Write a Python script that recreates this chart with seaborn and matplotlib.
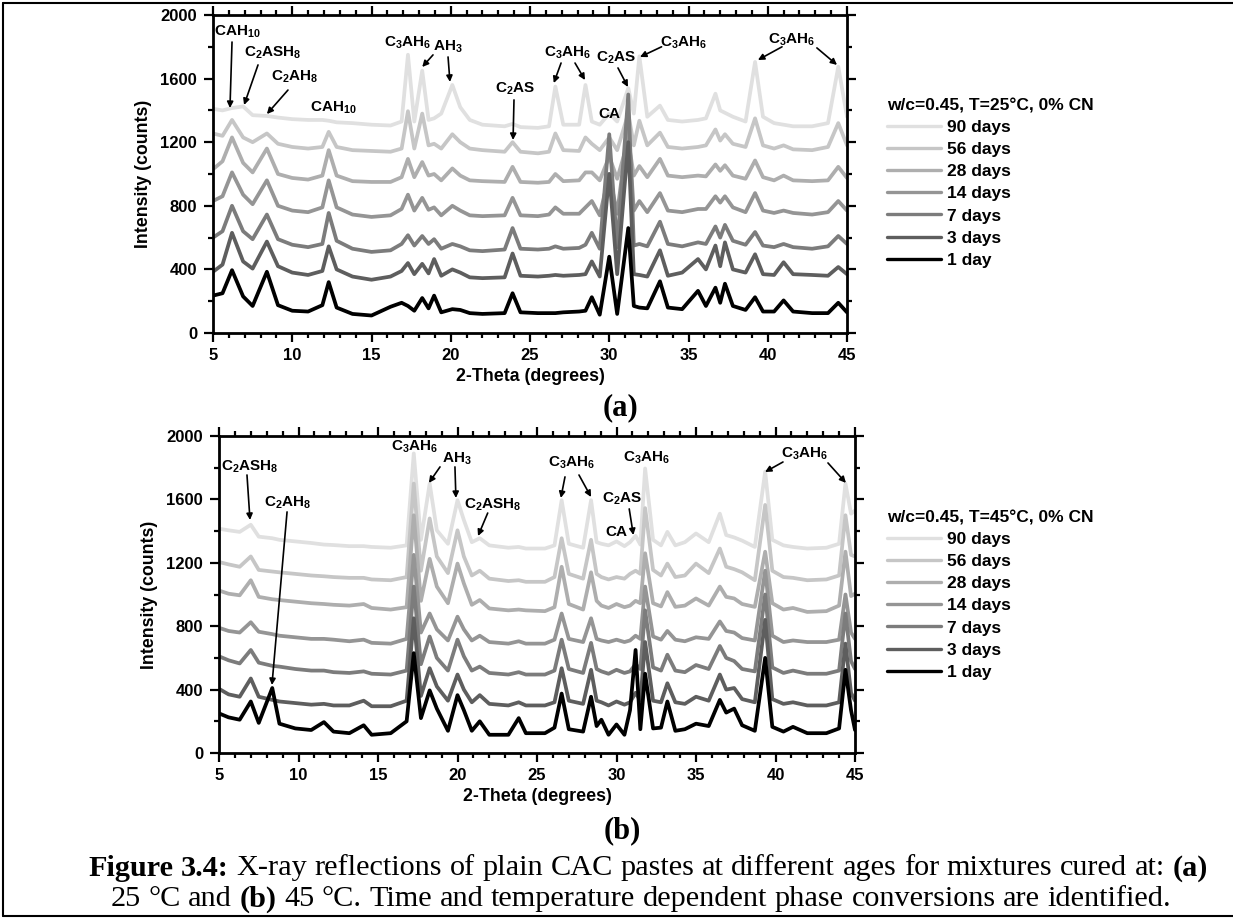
import numpy as np
import pandas as pd
import matplotlib
matplotlib.use("Agg")
import matplotlib.pyplot as plt
from matplotlib.lines import Line2D
from matplotlib.ticker import MultipleLocator
import seaborn as sns

# ---------------- data ----------------
AGES = ["1 day", "3 days", "7 days", "14 days", "28 days", "56 days", "90 days"]
AGE_COLORS = ["#000000", "#5e5e5e", "#7c7c7c", "#959595", "#aeaeae", "#c6c6c6", "#e0e0e0"]

TH_A = [5.0, 5.6, 6.2, 6.9, 7.5, 8.4, 9.1, 10.0, 11.0, 11.9,
        12.3, 12.8, 13.8, 15.0, 16.2, 16.9, 17.3, 17.7, 18.2, 18.6,
        18.95, 19.4, 20.1, 20.6, 21.2, 22.0, 23.4, 23.9, 24.4, 25.5,
        26.2, 26.6, 27.1, 28.1, 28.5, 28.9, 29.4, 30.0, 30.5, 31.2,
        31.55, 31.9, 32.4, 33.2, 33.7, 34.6, 35.6, 36.1, 36.7, 37.0,
        37.3, 37.8, 38.6, 39.2, 39.7, 40.4, 41.0, 41.6, 42.8, 43.8,
        44.45, 45.0]

A_1D = [235, 250, 395, 230, 170, 385, 175, 140, 135, 175,
        320, 160, 120, 110, 165, 190, 170, 140, 220, 155,
        235, 130, 150, 145, 125, 120, 125, 250, 130, 125,
        125, 125, 130, 135, 140, 225, 115, 480, 120, 660,
        170, 160, 155, 325, 160, 150, 265, 170, 285, 190,
        310, 170, 145, 225, 135, 135, 205, 135, 125, 125,
        190, 130]
A_3D = [385, 430, 630, 450, 405, 575, 420, 380, 365, 390,
        545, 400, 355, 335, 355, 390, 440, 370, 435, 375,
        465, 360, 400, 380, 350, 345, 350, 500, 360, 355,
        360, 365, 360, 365, 370, 450, 355, 1000, 370, 1200,
        370, 365, 355, 520, 360, 380, 465, 400, 550, 420,
        570, 400, 380, 495, 370, 365, 445, 370, 365, 360,
        415, 370]
A_7D = [600, 640, 800, 640, 590, 745, 590, 555, 540, 560,
        755, 580, 530, 510, 520, 560, 615, 550, 610, 560,
        590, 530, 560, 545, 520, 515, 525, 660, 530, 525,
        530, 545, 530, 535, 555, 630, 530, 1250, 540, 1500,
        550, 560, 545, 700, 560, 545, 570, 560, 670, 600,
        680, 580, 555, 635, 550, 540, 560, 540, 530, 545,
        610, 560]
A_14D = [830, 860, 1010, 870, 810, 960, 800, 770, 760, 790,
         960, 790, 745, 730, 740, 780, 870, 770, 850, 775,
         790, 740, 800, 770, 740, 735, 740, 850, 740, 735,
         745, 790, 750, 750, 790, 830, 740, 1000, 750, 1300,
         770, 830, 760, 880, 770, 760, 780, 780, 860, 820,
         860, 790, 760, 880, 770, 755, 770, 755, 745, 760,
         830, 770]
A_28D = [1030, 1080, 1230, 1070, 1010, 1160, 1000, 975, 965, 990,
         1150, 990, 955, 950, 950, 980, 1095, 980, 1075, 990,
         1000, 960, 1035, 990, 960, 955, 950, 1045, 950, 945,
         950, 1000, 955, 960, 1010, 1010, 960, 1110, 970, 1210,
         990, 1050, 980, 1095, 990, 980, 990, 985, 1060, 1020,
         1055, 990, 970, 1085, 980, 960, 990, 960, 955, 960,
         1045, 975]
A_56D = [1255, 1240, 1340, 1230, 1200, 1255, 1190, 1170, 1160, 1170,
         1265, 1170, 1150, 1145, 1140, 1160, 1395, 1160, 1380, 1180,
         1190, 1160, 1250, 1200, 1160, 1150, 1140, 1200, 1140, 1130,
         1140, 1255, 1150, 1145, 1230, 1190, 1150, 1230, 1150, 1380,
         1180, 1335, 1180, 1260, 1170, 1160, 1170, 1180, 1280, 1210,
         1250, 1190, 1170, 1350, 1180, 1160, 1180, 1155, 1150, 1170,
         1320, 1180]
A_90D = [1410, 1400, 1415, 1425, 1370, 1365, 1355, 1345, 1340, 1340,
         1335, 1325, 1320, 1310, 1305, 1330, 1750, 1330, 1650, 1340,
         1350, 1380, 1560, 1420, 1340, 1310, 1300, 1315, 1295, 1290,
         1300, 1550, 1310, 1310, 1560, 1330, 1310, 1380, 1330, 1540,
         1380, 1740, 1360, 1430, 1340, 1330, 1340, 1350, 1505, 1400,
         1385, 1360, 1330, 1705, 1360, 1320, 1310, 1300, 1300, 1320,
         1675, 1360]

TH_B = [5.0, 5.6, 6.3, 7.0, 7.5, 8.35, 8.8, 9.8, 10.8, 11.6,
        12.2, 13.2, 14.1, 14.6, 15.8, 16.8, 17.25, 17.7, 18.25, 18.7,
        19.4, 20.0, 20.4, 20.9, 21.4, 22.0, 23.2, 23.85, 24.3, 25.5,
        26.1, 26.55, 27.0, 27.9, 28.4, 28.75, 29.05, 29.5, 30.0, 30.5,
        30.85, 31.2, 31.5, 31.8, 32.3, 32.8, 33.2, 33.7, 34.3, 35.0,
        35.8, 36.5, 36.9, 37.4, 37.9, 38.7, 39.35, 39.8, 40.5, 41.1,
        42.0, 43.2, 44.0, 44.4, 44.75, 45.0]

B_1D = [250, 225, 210, 325, 190, 410, 185, 155, 145, 195,
        135, 125, 175, 115, 125, 200, 630, 220, 395, 280,
        140, 365, 270, 140, 200, 115, 115, 220, 125, 125,
        160, 375, 150, 135, 355, 170, 210, 115, 180, 115,
        270, 650, 150, 500, 155, 160, 325, 140, 150, 185,
        170, 335, 255, 280, 175, 140, 600, 165, 135, 165,
        125, 125, 155, 525, 270, 145]
B_3D = [405, 370, 355, 470, 355, 335, 325, 315, 305, 310,
        300, 300, 330, 295, 295, 330, 850, 360, 535, 420,
        330, 495, 400, 320, 365, 310, 300, 320, 300, 300,
        320, 535, 330, 310, 525, 330, 320, 300, 325, 305,
        320, 380, 330, 700, 330, 320, 440, 320, 310, 355,
        330, 495, 400, 410, 340, 320, 840, 340, 310, 320,
        300, 300, 320, 690, 380, 330]
B_7D = [610, 585, 565, 650, 570, 550, 545, 530, 520, 520,
        510, 505, 515, 500, 495, 520, 1050, 560, 735, 600,
        520, 715, 610, 520, 545, 505, 495, 510, 495, 495,
        520, 715, 530, 505, 695, 530, 515, 500, 525, 505,
        515, 560, 530, 900, 540, 520, 620, 520, 510, 555,
        530, 675, 600, 580, 530, 515, 1000, 540, 505, 520,
        500, 500, 520, 880, 580, 530]
B_14D = [790, 770, 760, 825, 765, 750, 740, 730, 720, 720,
         715, 705, 715, 695, 690, 720, 1250, 760, 880, 780,
         710, 860, 780, 710, 740, 700, 690, 705, 690, 690,
         715, 880, 720, 700, 850, 720, 710, 700, 715, 700,
         710, 740, 720, 1050, 735, 715, 770, 715, 705, 730,
         720, 830, 770, 760, 725, 710, 1150, 740, 700, 710,
         700, 700, 715, 1000, 760, 720]
B_28D = [1025, 1005, 995, 1090, 985, 970, 965, 955, 945, 940,
         935, 930, 940, 915, 905, 920, 1500, 960, 1225, 1050,
         945, 1195, 1070, 935, 965, 912, 900, 905, 900, 895,
         920, 1175, 940, 905, 1140, 960, 930, 915, 940, 920,
         930, 960, 945, 1260, 945, 925, 1015, 922, 930, 975,
         930, 1050, 985, 975, 940, 922, 1270, 945, 905, 915,
         890, 895, 930, 1270, 990, 1005]
B_56D = [1205, 1190, 1175, 1240, 1155, 1145, 1140, 1130, 1120, 1115,
         1110, 1105, 1105, 1095, 1090, 1110, 1700, 1150, 1480, 1240,
         1135, 1405, 1240, 1120, 1150, 1100, 1085, 1090, 1080, 1080,
         1110, 1355, 1130, 1100, 1345, 1130, 1110, 1095, 1110, 1100,
         1130, 1150, 1130, 1545, 1155, 1120, 1195, 1110, 1120, 1195,
         1135, 1290, 1175, 1160, 1140, 1090, 1565, 1150, 1110, 1105,
         1090, 1095, 1120, 1500, 1250, 1240]
B_90D = [1415, 1405, 1395, 1440, 1365, 1355, 1345, 1335, 1325, 1315,
         1312, 1305, 1305, 1300, 1295, 1310, 1890, 1345, 1700, 1405,
         1320, 1595, 1470, 1330, 1355, 1310, 1295, 1300, 1290, 1290,
         1310, 1595, 1320, 1295, 1595, 1330, 1320, 1310, 1335, 1305,
         1330, 1370, 1315, 1795, 1345, 1310, 1395, 1310, 1330, 1385,
         1330, 1510, 1375, 1360, 1340, 1300, 1775, 1345, 1310, 1300,
         1290, 1295, 1320, 1700, 1510, 1530]

SERIES_A = [A_1D, A_3D, A_7D, A_14D, A_28D, A_56D, A_90D]
SERIES_B = [B_1D, B_3D, B_7D, B_14D, B_28D, B_56D, B_90D]

X_TICKS = [5, 10, 15, 20, 25, 30, 35, 40, 45]
Y_TICKS = [0, 400, 800, 1200, 1600, 2000]

TITLE_A = "w/c=0.45, T=25°C, 0% CN"
TITLE_B = "w/c=0.45, T=45°C, 0% CN"

# annotations: (label, text x, text y, [(tail x, tail y, tip x, tip y), ...])
ANN_A = [
    ("CAH$_{10}$", 6.55, 1893, [(6.2, 1830, 6.07, 1415)]),
    ("C$_2$ASH$_8$", 8.76, 1761, [(7.84, 1686, 6.96, 1434)]),
    ("C$_2$AH$_8$", 10.13, 1610, [(9.73, 1528, 8.4, 1377)]),
    ("CAH$_{10}$", 12.57, 1415, []),
    ("C$_3$AH$_6$", 17.3, 1825, []),
    ("AH$_3$", 19.8, 1800, [(18.88, 1749, 18.2, 1673), (19.83, 1736, 19.95, 1579)]),
    ("C$_2$AS", 24.05, 1535, [(23.99, 1466, 23.93, 1214)]),
    ("C$_3$AH$_6$", 27.4, 1761, [(26.96, 1698, 26.5, 1572), (27.84, 1698, 28.47, 1591)]),
    ("C$_2$AS", 30.43, 1730, [(30.55, 1667, 31.18, 1547)]),
    ("CA", 29.98, 1377, []),
    ("C$_3$AH$_6$", 34.7, 1824, [(33.3, 1800, 31.94, 1736)]),
    ("C$_3$AH$_6$", 41.53, 1843, [(40.9, 1800, 39.38, 1717), (43.1, 1793, 44.37, 1686)]),
]
ANN_B = [
    ("C$_2$ASH$_8$", 6.95, 1805, [(6.76, 1754, 6.95, 1470)]),
    ("C$_2$AH$_8$", 9.34, 1577, [(9.28, 1521, 8.33, 429)]),
    ("C$_3$AH$_6$", 17.33, 1931, []),
    ("AH$_3$", 19.97, 1855, [(18.9, 1805, 18.2, 1704), (19.84, 1805, 19.9, 1609)]),
    ("C$_2$ASH$_8$", 22.23, 1565, [(21.9, 1514, 21.29, 1369)]),
    ("C$_3$AH$_6$", 27.2, 1830, [(26.76, 1742, 26.5, 1609), (27.64, 1754, 28.4, 1615)]),
    ("C$_2$AS", 30.33, 1603, [(30.8, 1540, 31.06, 1375)]),
    ("CA", 30.0, 1394, []),
    ("C$_3$AH$_6$", 31.9, 1861, []),
    ("C$_3$AH$_6$", 41.8, 1886, [(40.47, 1836, 39.34, 1773), (43.3, 1830, 44.43, 1704)]),
]

CAPTION_1 = [("Figure 3.4:", "bold"), ("X-ray reflections of plain CAC pastes at different ages for mixtures cured at:", "normal"), ("(a)", "bold")]
CAPTION_2 = [("25 °C and", "normal"), ("(b)", "bold"), ("45 °C. Time and temperature dependent phase conversions are identified.", "normal")]

# ---------------- style ----------------
sns.set_theme(style="ticks")
plt.rcParams["font.family"] = ["Liberation Sans", "DejaVu Sans"]
plt.rcParams.update({
    "font.weight": "bold",
    "axes.edgecolor": "black",
    "axes.labelcolor": "black",
    "text.color": "black",
    "xtick.color": "black",
    "ytick.color": "black",
    "axes.linewidth": 2.0,
    "mathtext.fontset": "custom",
    "mathtext.rm": "Liberation Sans:bold",
    "mathtext.it": "Liberation Sans:bold:italic",
    "mathtext.bf": "Liberation Sans:bold",
})

W, H = 1233, 919
fig = plt.figure(figsize=(W / 100, H / 100), dpi=100)
fig.patch.set_facecolor("white")


def px_axes(l, t, r, b):
    return [l / W, 1 - b / H, (r - l) / W, (b - t) / H]


ax_a = fig.add_axes(px_axes(213, 15, 847, 333))
ax_b = fig.add_axes(px_axes(219, 436, 855, 753))

palette = dict(zip(AGES, AGE_COLORS))
draw_order = AGES[::-1]  # 90 days first, 1 day on top

TICK_FS = 12
LABEL_FS = 12.75
ANN_FS = 11
LEG_FS = 12.5
LINE_W = 2.7


def make_df(theta, series):
    frames = []
    for age, vals in zip(AGES, series):
        assert len(vals) == len(theta), (age, len(vals), len(theta))
        frames.append(pd.DataFrame({"theta": theta, "intensity": vals, "age": age}))
    return pd.concat(frames, ignore_index=True)


def draw_panel(ax, theta, series, title, ann, leg_top_px):
    df = make_df(theta, series)
    sns.lineplot(data=df, x="theta", y="intensity", hue="age", hue_order=draw_order,
                 palette=palette, estimator=None, sort=False, linewidth=LINE_W,
                 legend=False, ax=ax)
    ax.set_xlim(5, 45)
    ax.set_ylim(0, 2000)
    ax.set_xticks(X_TICKS)
    ax.set_yticks(Y_TICKS)
    ax.xaxis.set_minor_locator(MultipleLocator(1))
    ax.yaxis.set_minor_locator(MultipleLocator(200))
    ax.tick_params(which="both", direction="out", top=True, right=True,
                   labeltop=False, labelright=False, width=1.6, labelsize=TICK_FS)
    ax.tick_params(which="major", length=6.5)
    ax.tick_params(which="minor", length=3.5)
    ax.tick_params(axis="x", which="major", pad=4)
    ax.tick_params(axis="y", which="major", pad=5)
    for lab in ax.get_xticklabels() + ax.get_yticklabels():
        lab.set_fontweight("bold")
    for s in ax.spines.values():
        s.set_linewidth(2.0)
    ax.set_xlabel("2-Theta (degrees)", fontsize=LABEL_FS, fontweight="bold", labelpad=4)
    ax.set_ylabel("Intensity (counts)", fontsize=LABEL_FS, fontweight="bold", labelpad=6)

    for label, tx, ty, arrows in ann:
        ax.text(tx, ty, label, ha="center", va="center", fontsize=ANN_FS,
                fontweight="bold", zorder=5)
        for x0, y0, x1, y1 in arrows:
            ax.annotate("", xy=(x1, y1), xytext=(x0, y0),
                        arrowprops=dict(arrowstyle="-|>", color="black", lw=1.2,
                                        shrinkA=0, shrinkB=0, mutation_scale=9),
                        zorder=5)

    handles = [Line2D([], [], color=palette[a], lw=2.4) for a in draw_order]
    ax.legend(handles, draw_order, title=title, loc="upper left",
              bbox_to_anchor=(887 / W, 1 - leg_top_px / H), bbox_transform=fig.transFigure,
              frameon=False, prop=dict(weight="bold", size=LEG_FS),
              title_fontproperties=dict(weight="bold", size=LEG_FS),
              handlelength=3.1, handletextpad=0.38, labelspacing=0.4,
              borderpad=0, borderaxespad=0, alignment="left")


draw_panel(ax_a, TH_A, SERIES_A, TITLE_A, ANN_A, 98)
draw_panel(ax_b, TH_B, SERIES_B, TITLE_B, ANN_B, 510)

# panel letters
serif = ["Liberation Serif", "DejaVu Serif"]
fig.text(620 / W, 1 - 408 / H, "(a)", ha="center", va="center", fontsize=22,
         fontweight="bold", family=serif)
fig.text(622 / W, 1 - 831 / H, "(b)", ha="center", va="center", fontsize=22,
         fontweight="bold", family=serif)

# caption: centred lines with mixed weights
renderer = fig.canvas.get_renderer()
CAP_FS = 21.8


def centred_line(pieces, xc_px, y_px, size):
    words = []
    for txt, weight in pieces:
        for wd in txt.split():
            words.append((wd, weight))
    space = 0.25 * size * 100 / 72
    arts, widths = [], []
    for wd, weight in words:
        t = fig.text(0, 1 - y_px / H, wd, ha="left", va="center", fontsize=size,
                     fontweight=weight, family=serif)
        arts.append(t)
        widths.append(t.get_window_extent(renderer=renderer).width)
    total = sum(widths) + space * (len(words) - 1)
    x = xc_px - total / 2
    for t, w in zip(arts, widths):
        t.set_x(x / W)
        x += w + space


centred_line(CAPTION_1, 648, 868, CAP_FS)
centred_line(CAPTION_2, 641, 899, CAP_FS)

# page frame
for xs, ys in [([3, 3], [3, 916]), ([3, W], [3, 3]), ([3, W], [916, 916])]:
    fig.add_artist(Line2D([x / W for x in xs], [1 - y / H for y in ys],
                          transform=fig.transFigure, color="black", lw=1.5))

fig.savefig("out.png", dpi=100, facecolor="white")
